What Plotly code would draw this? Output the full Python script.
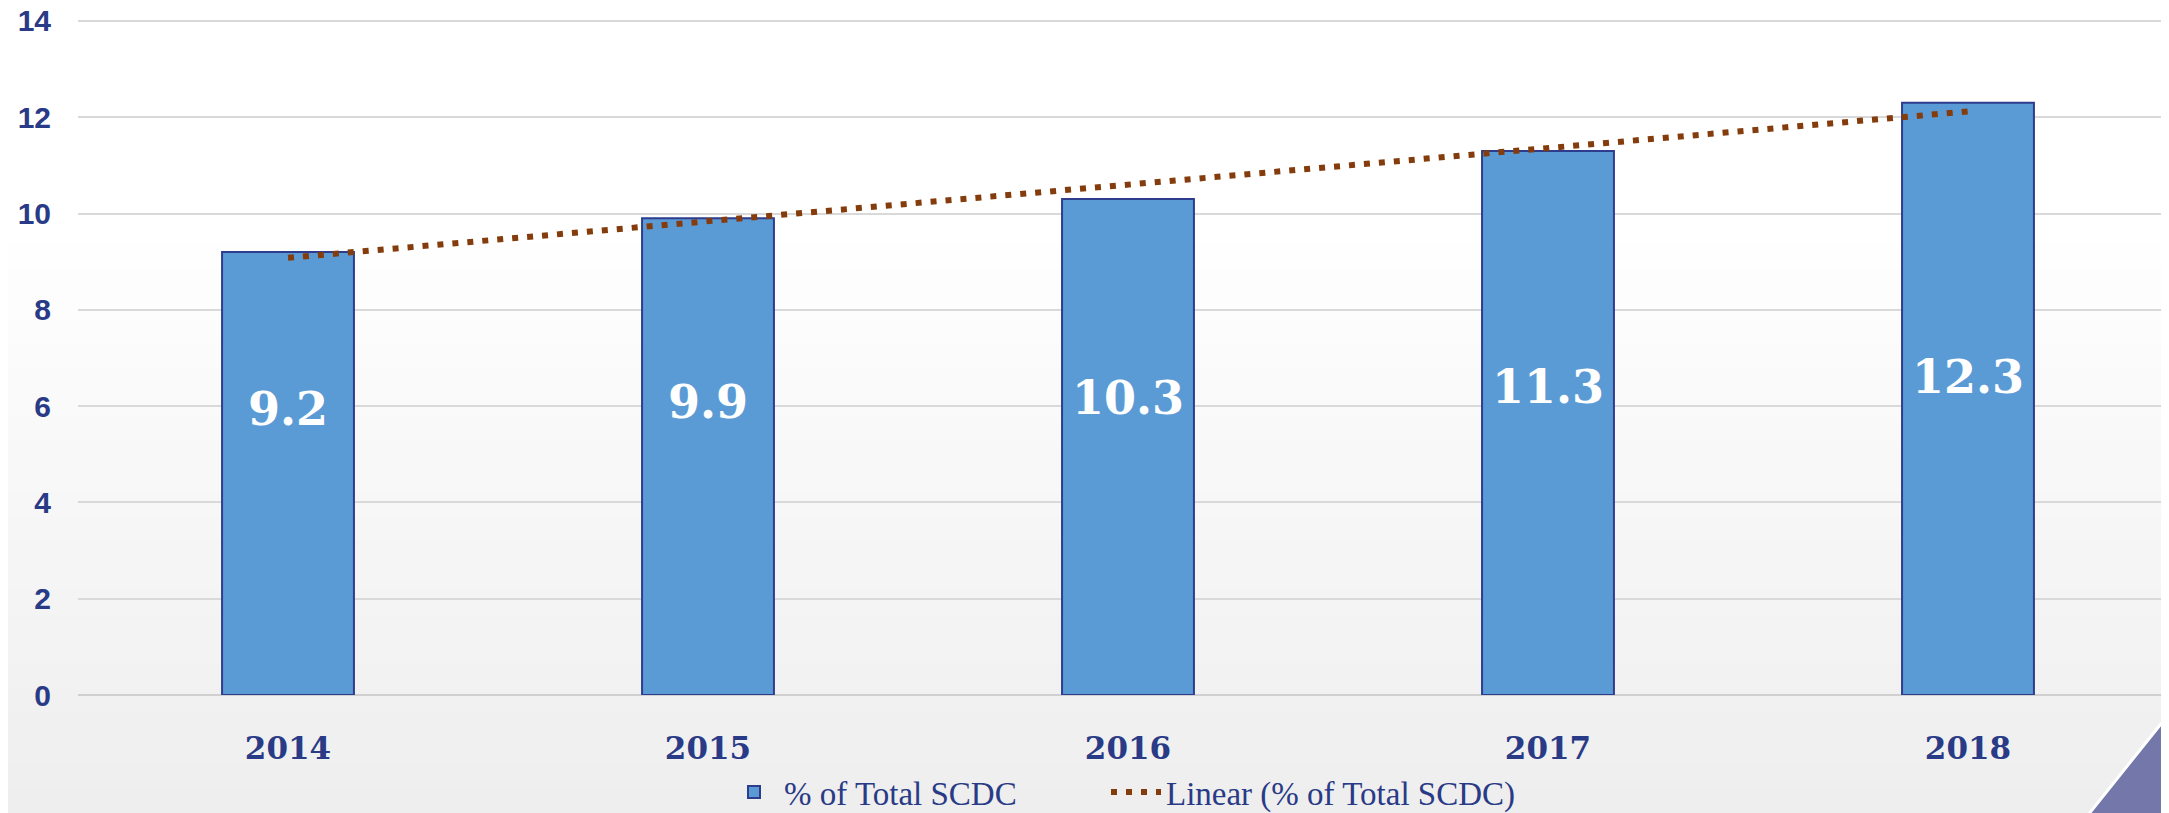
import numpy as np
import plotly.graph_objects as go

years = ["2014", "2015", "2016", "2017", "2018"]
share_scdc = [9.2, 9.9, 10.3, 11.3, 12.3]
y_ticks = [0, 2, 4, 6, 8, 10, 12, 14]

# page offset: the html body has an 8px margin, so figure coords = screen - 8
OFF = 8
W, H = 2169 - OFF, 813 - OFF
NAVY = "#293A86"
BAR = "#5B9BD5"
TREND = "#843C0C"

xi = np.arange(len(years))
slope, intercept = np.polyfit(xi, share_scdc, 1)
trend = intercept + slope * xi

fig = go.Figure()

fig.add_trace(go.Bar(
    x=years, y=share_scdc, name="% of Total SCDC",
    marker=dict(color=BAR, line=dict(color="#2E3C8E", width=2)),
    width=0.314, legend="legend",
))
fig.add_trace(go.Scatter(
    x=years, y=trend, mode="lines", name="Linear (% of Total SCDC)",
    line=dict(color=TREND, width=6, dash="6px,9px"),
    legend="legend2",
))

# value labels inside bars
for i, v in enumerate(share_scdc):
    fig.add_annotation(
        x=i, y=3.95 + 0.216 * v, xref="x", yref="y",
        text=f"{v:.1f}", showarrow=False,
        font=dict(family="DejaVu Serif", size=46, color="white", weight="bold"),
    )

# geometry in screen pixels
L_s = 78            # plot left (screen)
bot_s = 695         # y = 0 (screen)
ppu = 674 / 14      # pixels per y unit
ymax = 14.04
top_s = bot_s - ymax * ppu
pw = 2169 - L_s
ph = bot_s - top_s
def px_x(p):
    return (p - L_s) / pw
def px_y(p):
    return (bot_s - p) / ph

shapes = []
n = 24
start = 220
for i in range(n):
    y0p = start + (813 - start) * i / n
    y1p = start + (813 - start) * (i + 1) / n
    t = (i + 0.5) / n
    c = int(round(255 - 17 * t))
    shapes.append(dict(type="rect", xref="paper", yref="paper",
                       x0=px_x(0), x1=px_x(2172), y0=px_y(y1p + 0.5), y1=px_y(y0p - 0.5),
                       fillcolor=f"rgb({c},{c},{c})", line=dict(width=0), layer="below"))
# decorative corner triangle
shapes.append(dict(type="path", xref="paper", yref="paper",
                   path=f"M {px_x(2088)},{px_y(815)} L {px_x(2172)},{px_y(710)} L {px_x(2172)},{px_y(815)} Z",
                   fillcolor="#7377A9", line=dict(color="white", width=3), layer="above"))

legend_style = dict(orientation="h", xref="container", yref="container",
                    xanchor="left", y=(813 - 792) / H, yanchor="middle",
                    font=dict(family="Liberation Serif", size=33, color=NAVY),
                    bgcolor="rgba(0,0,0,0)", itemwidth=50)

fig.update_layout(
    width=W, height=H,
    margin=dict(l=L_s - OFF, r=0, t=int(round(top_s - OFF)), b=H - (bot_s - OFF), pad=0),
    paper_bgcolor="white", plot_bgcolor="rgba(0,0,0,0)",
    shapes=shapes,
    bargap=0.686,
    showlegend=True,
    legend=dict(legend_style, x=(724 - OFF) / W),
    legend2=dict(legend_style, x=(1106 - OFF) / W),
    xaxis=dict(type="category", range=[-0.5, 4.4786], showgrid=False, zeroline=False, showline=False,
               automargin=False, ticks="", ticklabelstandoff=32,
               tickfont=dict(family="DejaVu Serif", size=31, color=NAVY, weight="bold")),
    yaxis=dict(range=[0, ymax], tickvals=y_ticks, showgrid=True, gridcolor="#D9D9D9", gridwidth=2,
               zeroline=True, zerolinecolor="#D0D0D0", zerolinewidth=2, showline=False,
               automargin=False, ticks="", ticklabelstandoff=26, ticklabeloverflow="allow",
               tickfont=dict(family="Liberation Sans", size=30, color=NAVY, weight="bold")),
)

fig.write_html("out.html")
